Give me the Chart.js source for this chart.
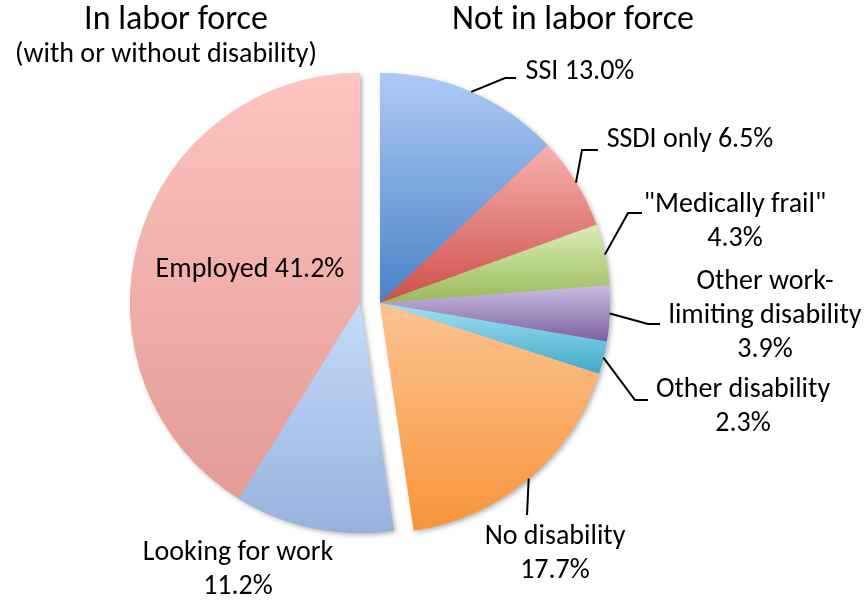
<!DOCTYPE html>
<html><head><meta charset="utf-8">
<script src="https://cdn.jsdelivr.net/npm/chart.js@4.4.1/dist/chart.umd.min.js"></script>
<style>html,body{margin:0;padding:0;background:#fff}canvas{display:block}</style>
</head><body>
<canvas id="c" width="867" height="600"></canvas>
<script>
// ---------- data ----------
const categories = ["SSI", "SSDI only", "\"Medically frail\"", "Other work-limiting disability", "Other disability", "No disability", "Looking for work", "Employed"];
const shares = [13.0, 6.5, 4.3, 3.9, 2.3, 17.7, 11.2, 41.2];
const groupOfCategory = ["Not in labor force", "Not in labor force", "Not in labor force", "Not in labor force", "Not in labor force", "Not in labor force", "In labor force", "In labor force"];
const groupTitles = ["In labor force", "Not in labor force"];
const groupSubtitle = "(with or without disability)";
// label text lines (name lines + percentage)
const labelLines = [
  ["SSI 13.0%"],
  ["SSDI only 6.5%"],
  ["\"Medically frail\"", "4.3%"],
  ["Other work-", "limiting disability", "3.9%"],
  ["Other disability", "2.3%"],
  ["No disability", "17.7%"],
  ["Looking for work", "11.2%"],
  ["Employed 41.2%"]
];

// ---------- style ----------
const sliceColors = [
  ["#aecaf6", "#4a82c6"],
  ["#f8b0ad", "#cd4f4b"],
  ["#d9eeb6", "#9ab958"],
  ["#cbbce3", "#7c60a0"],
  ["#a2e1f5", "#40a8c8"],
  ["#fdc393", "#f7953a"],
  ["#c6dbfa", "#97b2dd"],
  ["#fdc4c0", "#e39b96"]
];
const explodePx = 10;
const FONT = "Carlito, Lato, 'Liberation Sans', sans-serif";
const labelFont = "28px " + FONT;
const titleFont = "34px " + FONT;
const lineH = 34;
// label layout relative to the pie centre (px): text centre x, first line y, leader elbow points
const labelLayout = [
  {x: 210, y: -231, elbow: [[135, -225], [146, -225]], frac: 0.5},
  {x: 320, y: -163, elbow: [[212, -153], [228, -153]], frac: 0.5},
  {x: 365, y: -98, elbow: [[258, -90], [272, -90]], frac: 0.5},
  {x: 395, y: -21, elbow: [[278, 21], [290, 21]], frac: 0.5},
  {x: 373, y: 87, elbow: [[265, 97], [278, 97]], frac: 0.5},
  {x: 185, y: 234, elbow: [[157, 212]], frac: 0.5},
  {x: -132, y: 250, elbow: null},
  {x: -120, y: -33, elbow: null}
];
const titleLayout = [
  {x: -194, y: -283, sub: -248},
  {x: 203, y: -283}
];

function pieGeom(chart) {
  const a = chart.chartArea;
  return {cx: (a.left + a.right) / 2, cy: (a.top + a.bottom) / 2, r: Math.min(a.right - a.left, a.bottom - a.top) / 2};
}
function groupShift(i) { return groupOfCategory[i] === groupTitles[1] ? explodePx : -explodePx; }

function sliceFill(c) {
  const i = c.dataIndex, chart = c.chart;
  const [top, bottom] = sliceColors[i];
  if (!chart.chartArea) return bottom;
  const {cx, cy, r} = pieGeom(chart);
  const total = shares.reduce((a, b) => a + b, 0);
  let cum = 0; for (let k = 0; k < i; k++) cum += shares[k];
  const a0 = cum / total * 2 * Math.PI, a1 = (cum + shares[i]) / total * 2 * Math.PI;
  const ys = [cy, cy - r * Math.cos(a0), cy - r * Math.cos(a1)];
  if (a0 <= 0.0001) ys.push(cy - r);
  if (a0 <= Math.PI && a1 >= Math.PI) ys.push(cy + r);
  const g = chart.ctx.createLinearGradient(0, Math.min(...ys), 0, Math.max(...ys));
  g.addColorStop(0, top); g.addColorStop(1, bottom);
  return g;
}

const explodePlugin = {
  id: 'explodeGroups',
  beforeDatasetDraw(chart, args) {
    const ctx = chart.ctx, arcs = args.meta.data;
    for (const pass of [0, 1]) {
      arcs.forEach((arc, i) => {
        ctx.save();
        ctx.translate(groupShift(i), 0);
        if (pass === 0) {
          ctx.shadowColor = 'rgba(0,0,0,0.30)';
          ctx.shadowBlur = 5; ctx.shadowOffsetX = 2; ctx.shadowOffsetY = 2;
        }
        arc.draw(ctx);
        ctx.restore();
      });
    }
    return false;
  }
};

const labelPlugin = {
  id: 'sliceLabels',
  afterDraw(chart) {
    const ctx = chart.ctx, arcs = chart.getDatasetMeta(0).data;
    const {cx, cy} = pieGeom(chart);
    ctx.save();
    ctx.fillStyle = '#000'; ctx.strokeStyle = '#000'; ctx.lineWidth = 2;
    ctx.textAlign = 'center'; ctx.textBaseline = 'middle';
    arcs.forEach((arc, i) => {
      const L = labelLayout[i];
      if (L.elbow) {
        const p = arc.getProps(['x', 'y', 'startAngle', 'endAngle', 'outerRadius']);
        const ang = p.startAngle + (p.endAngle - p.startAngle) * L.frac;
        const ax = p.x + groupShift(i) + Math.cos(ang) * p.outerRadius;
        const ay = p.y + Math.sin(ang) * p.outerRadius;
        ctx.beginPath(); ctx.moveTo(ax, ay);
        L.elbow.forEach(e => ctx.lineTo(cx + e[0], cy + e[1]));
        ctx.stroke();
      }
      ctx.font = labelFont;
      labelLines[i].forEach((t, k) => ctx.fillText(t, cx + L.x, cy + L.y + k * lineH));
    });
    ctx.font = titleFont;
    titleLayout.forEach((T, g) => ctx.fillText(groupTitles[g], cx + T.x, cy + T.y));
    ctx.font = labelFont;
    ctx.fillText(groupSubtitle, cx + titleLayout[0].x - 10, cy + titleLayout[0].sub);
    ctx.restore();
  }
};

new Chart(document.getElementById('c'), {
  type: 'pie',
  data: {
    labels: categories,
    datasets: [{data: shares, backgroundColor: sliceFill, borderWidth: 0}]
  },
  options: {
    responsive: false,
    animation: false,
    layout: {padding: {left: 140, right: 267, top: 73, bottom: 67}},
    plugins: {legend: {display: false}, tooltip: {enabled: false}}
  },
  plugins: [explodePlugin, labelPlugin]
});
</script>
</body></html>
